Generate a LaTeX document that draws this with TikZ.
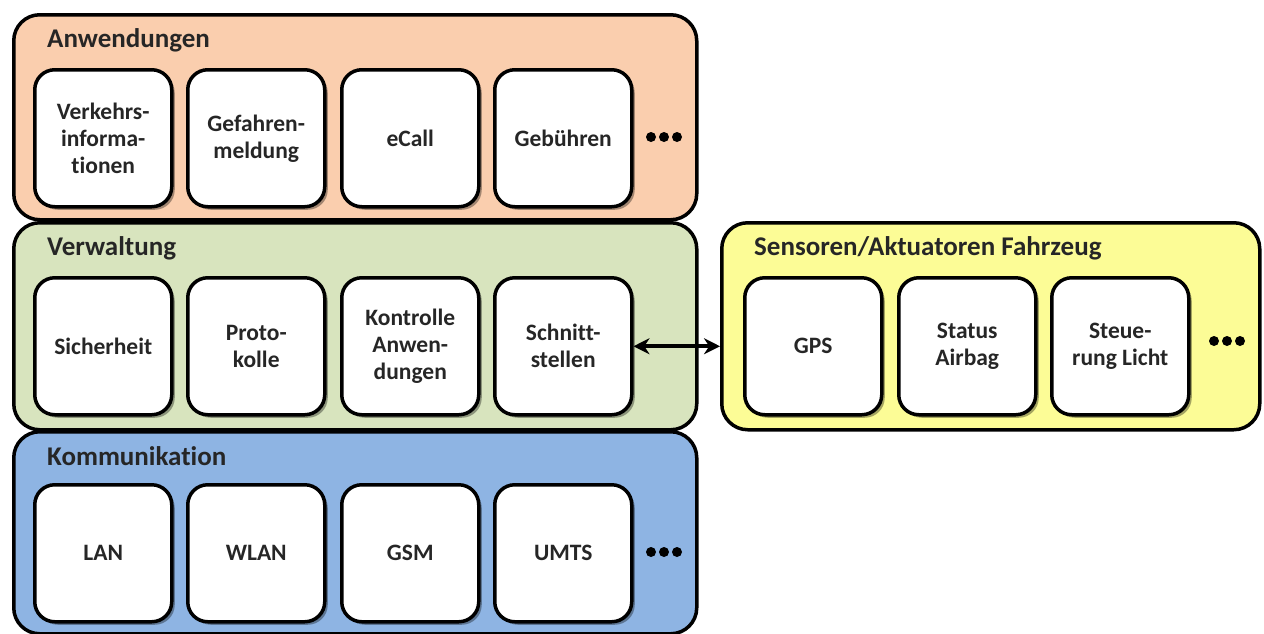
\documentclass[tikz,border=0pt]{standalone}
\usepackage{fontspec}
\setmainfont{Carlito}[Ligatures=NoCommon]
\usetikzlibrary{shadows,arrows.meta}
\definecolor{peach}{RGB}{250,206,174}
\definecolor{sage}{RGB}{216,228,190}
\definecolor{skyblue}{RGB}{142,180,227}
\definecolor{lemon}{RGB}{252,252,150}
\tikzset{
  panel/.style={draw=black, line width=3.5pt, rounded corners=26pt, anchor=north west,
    inner sep=0pt},
  layertitle/.style={anchor=west, inner sep=0pt, font=\bfseries\fontsize{27}{32}\selectfont, text=black!85},
  module/.style={draw=black, line width=3.5pt, rounded corners=20pt, fill=white,
    minimum width=137pt, minimum height=137pt, anchor=north west, align=center,
    inner sep=0pt, font=\bfseries\fontsize{23.5}{27}\selectfont, text=black!85,
    drop shadow={shadow xshift=3pt, shadow yshift=-3pt, opacity=0.35, fill=black}},
  more/.style={fill=black}
}
\begin{document}
\begin{tikzpicture}[x=1pt,y=-1pt]
\useasboundingbox (0,0) rectangle (1264,633);

% layer panels
\node[panel, fill=peach,   minimum width=683pt, minimum height=205pt] (anw) at (12,13) {};
\node[panel, fill=sage,    minimum width=683pt, minimum height=207pt] (verw) at (12,221) {};
\node[panel, fill=skyblue, minimum width=683pt, minimum height=202pt] (komm) at (12,430) {};
\node[panel, fill=lemon,   minimum width=538pt, minimum height=207pt] (sens) at (720,221) {};

% panel titles
\node[layertitle] (tanw)  at (47,40)  {Anwendungen};
\node[layertitle] (tverw) at (47,248) {Verwaltung};
\node[layertitle] (tkomm) at (47,456) {Kommunikation};
\node[layertitle] (tsens) at (754,248) {Sensoren/Aktuatoren Fahrzeug};

% Anwendungen
\node[module] (vi)  at (33,68)  {Verkehrs-\\informa-\\tionen};
\node[module] (gm)  at (186,68) {Gefahren-\\meldung};
\node[module] (ec)  at (340,68) {eCall};
\node[module] (gb)  at (493,68) {Gebühren};

% Verwaltung
\node[module] (si)  at (33,276)  {Sicherheit};
\node[module] (pr)  at (186,276) {Proto-\\kolle};
\node[module] (ka)  at (340,276) {Kontrolle\\Anwen-\\dungen};
\node[module] (sch) at (493,276) {Schnitt-\\stellen};

% Kommunikation
\node[module] (lan)  at (33,483)  {LAN};
\node[module] (wlan) at (186,483) {WLAN};
\node[module] (gsm)  at (340,483) {GSM};
\node[module] (umts) at (493,483) {UMTS};

% Sensoren/Aktuatoren
\node[module] (gps) at (743,276)  {GPS};
\node[module] (sa)  at (897,276)  {Status\\Airbag};
\node[module] (sl)  at (1050,276) {Steue-\\rung Licht};

% continuation marks
\foreach \x in {651,664,677} {
  \fill[more] (\x,137) circle (5pt);
  \fill[more] (\x,552) circle (5pt);
}
\foreach \x in {1214,1227,1240} {
  \fill[more] (\x,341) circle (5pt);
}

% link between interfaces and vehicle sensors/actuators
\draw[{Stealth[length=16pt,width=16pt]}-{Stealth[length=16pt,width=16pt]}, line width=4pt]
  (sch.east) -- (sch.east -| sens.west);
\end{tikzpicture}
\end{document}
